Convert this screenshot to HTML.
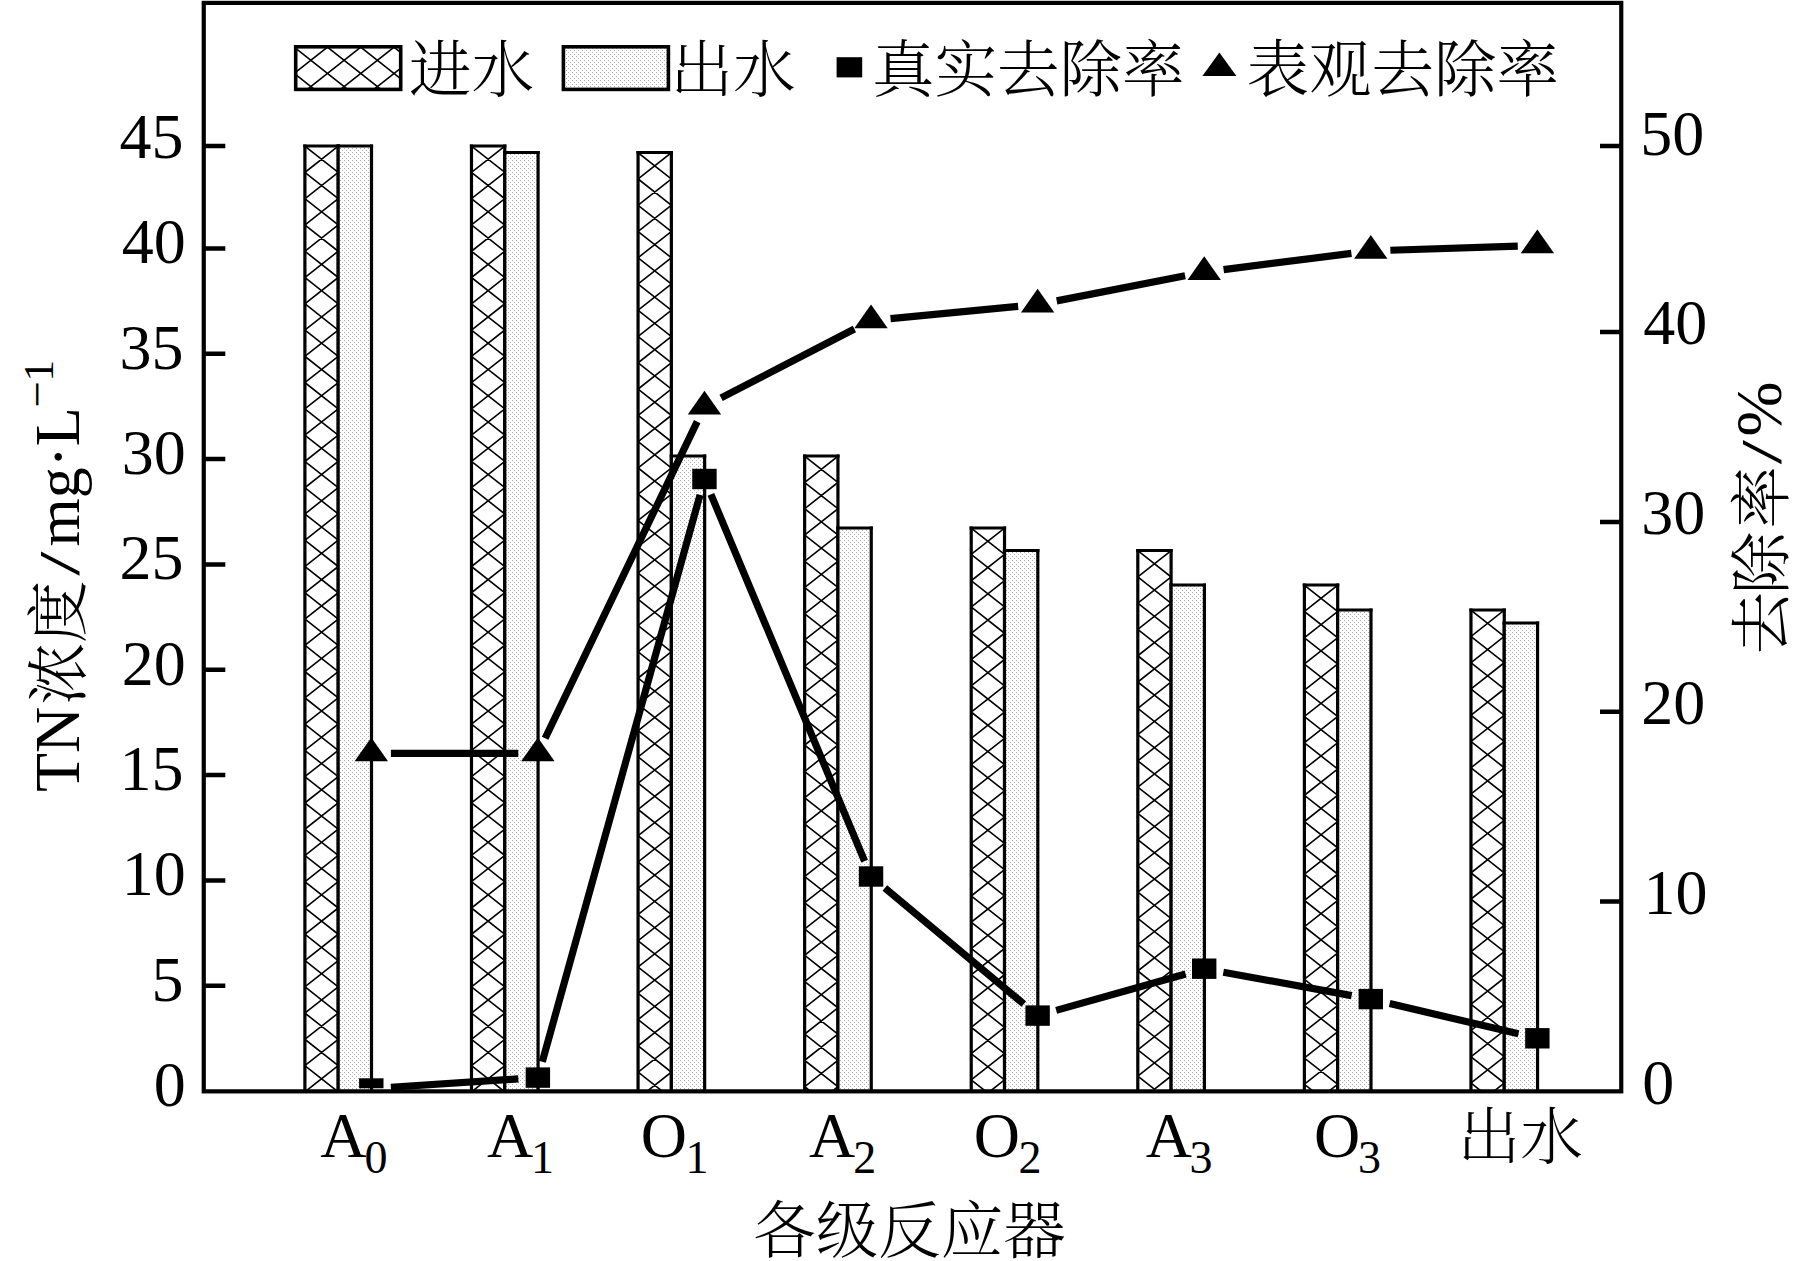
<!DOCTYPE html>
<html lang="zh"><head><meta charset="utf-8"><title>TN</title>
<style>html,body{margin:0;padding:0;background:#fff;overflow:hidden;}svg{display:block;}text{font-family:"Liberation Serif", "Noto Serif CJK SC", serif;fill:#000;font-weight:300;}</style></head><body>
<svg width="1798" height="1261" viewBox="0 0 1798 1261">
<rect x="0" y="0" width="1798" height="1261" fill="#fff"/>
<defs>
<pattern id="dots" patternUnits="userSpaceOnUse" x="0" y="0" width="4" height="4"><rect width="4" height="4" fill="#fff"/><rect x="0" y="0" width="1" height="1" fill="#acacac"/><rect x="2" y="2" width="1" height="1" fill="#acacac"/></pattern>
<clipPath id="lineclip"><rect x="203.75" y="2.90" width="1417.50" height="1088.45"/></clipPath>
<clipPath id="plotclip"><rect x="203.75" y="2.90" width="1417.50" height="1085.40"/></clipPath>
<clipPath id="hc0"><rect x="304.90" y="146.00" width="33.30" height="945.35"/></clipPath>
<clipPath id="hc1"><rect x="471.48" y="146.00" width="33.30" height="945.35"/></clipPath>
<clipPath id="hc2"><rect x="638.06" y="152.50" width="33.30" height="938.85"/></clipPath>
<clipPath id="hc3"><rect x="804.64" y="456.00" width="33.30" height="635.35"/></clipPath>
<clipPath id="hc4"><rect x="971.22" y="528.00" width="33.30" height="563.35"/></clipPath>
<clipPath id="hc5"><rect x="1137.80" y="550.50" width="33.30" height="540.85"/></clipPath>
<clipPath id="hc6"><rect x="1304.38" y="585.00" width="33.30" height="506.35"/></clipPath>
<clipPath id="hc7"><rect x="1470.96" y="610.00" width="33.30" height="481.35"/></clipPath>
<clipPath id="hcl"><rect x="295.70" y="46.80" width="105.00" height="42.60"/></clipPath>
</defs>
<g id="bars">
<rect x="304.90" y="146.00" width="33.30" height="945.35" fill="#fff"/>
<path clip-path="url(#hc0)" d="M302.90 118.32L340.20 147.74M302.90 147.74L340.20 118.32M302.90 144.59L340.20 174.01M302.90 174.01L340.20 144.59M302.90 170.86L340.20 200.28M302.90 200.28L340.20 170.86M302.90 197.13L340.20 226.55M302.90 226.55L340.20 197.13M302.90 223.40L340.20 252.82M302.90 252.82L340.20 223.40M302.90 249.67L340.20 279.09M302.90 279.09L340.20 249.67M302.90 275.94L340.20 305.36M302.90 305.36L340.20 275.94M302.90 302.21L340.20 331.63M302.90 331.63L340.20 302.21M302.90 328.48L340.20 357.90M302.90 357.90L340.20 328.48M302.90 354.75L340.20 384.17M302.90 384.17L340.20 354.75M302.90 381.02L340.20 410.44M302.90 410.44L340.20 381.02M302.90 407.29L340.20 436.71M302.90 436.71L340.20 407.29M302.90 433.56L340.20 462.98M302.90 462.98L340.20 433.56M302.90 459.83L340.20 489.25M302.90 489.25L340.20 459.83M302.90 486.10L340.20 515.52M302.90 515.52L340.20 486.10M302.90 512.37L340.20 541.79M302.90 541.79L340.20 512.37M302.90 538.64L340.20 568.06M302.90 568.06L340.20 538.64M302.90 564.91L340.20 594.33M302.90 594.33L340.20 564.91M302.90 591.18L340.20 620.60M302.90 620.60L340.20 591.18M302.90 617.45L340.20 646.87M302.90 646.87L340.20 617.45M302.90 643.72L340.20 673.14M302.90 673.14L340.20 643.72M302.90 669.99L340.20 699.41M302.90 699.41L340.20 669.99M302.90 696.26L340.20 725.68M302.90 725.68L340.20 696.26M302.90 722.53L340.20 751.95M302.90 751.95L340.20 722.53M302.90 748.80L340.20 778.22M302.90 778.22L340.20 748.80M302.90 775.07L340.20 804.49M302.90 804.49L340.20 775.07M302.90 801.34L340.20 830.76M302.90 830.76L340.20 801.34M302.90 827.61L340.20 857.03M302.90 857.03L340.20 827.61M302.90 853.88L340.20 883.30M302.90 883.30L340.20 853.88M302.90 880.15L340.20 909.57M302.90 909.57L340.20 880.15M302.90 906.42L340.20 935.84M302.90 935.84L340.20 906.42M302.90 932.69L340.20 962.11M302.90 962.11L340.20 932.69M302.90 958.96L340.20 988.38M302.90 988.38L340.20 958.96M302.90 985.23L340.20 1014.65M302.90 1014.65L340.20 985.23M302.90 1011.50L340.20 1040.92M302.90 1040.92L340.20 1011.50M302.90 1037.77L340.20 1067.19M302.90 1067.19L340.20 1037.77M302.90 1064.04L340.20 1093.46M302.90 1093.46L340.20 1064.04M302.90 1090.31L340.20 1119.73M302.90 1119.73L340.20 1090.31" fill="none" stroke="#000" stroke-width="1.6"/>
<path d="M304.90 1091.35V144.50M338.20 1091.35V144.50" stroke="#000" stroke-width="3.2" fill="none"/><path d="M303.30 146.00H339.80" stroke="#000" stroke-width="3.0" fill="none"/>
<rect x="338.20" y="146.00" width="33.30" height="945.35" fill="url(#dots)"/>
<path d="M338.20 1091.35V144.50M371.50 1091.35V144.50" stroke="#000" stroke-width="3.2" fill="none"/><path d="M336.60 146.00H373.10" stroke="#000" stroke-width="3.0" fill="none"/>
<rect x="471.48" y="146.00" width="33.30" height="945.35" fill="#fff"/>
<path clip-path="url(#hc1)" d="M469.48 118.32L506.78 147.74M469.48 147.74L506.78 118.32M469.48 144.59L506.78 174.01M469.48 174.01L506.78 144.59M469.48 170.86L506.78 200.28M469.48 200.28L506.78 170.86M469.48 197.13L506.78 226.55M469.48 226.55L506.78 197.13M469.48 223.40L506.78 252.82M469.48 252.82L506.78 223.40M469.48 249.67L506.78 279.09M469.48 279.09L506.78 249.67M469.48 275.94L506.78 305.36M469.48 305.36L506.78 275.94M469.48 302.21L506.78 331.63M469.48 331.63L506.78 302.21M469.48 328.48L506.78 357.90M469.48 357.90L506.78 328.48M469.48 354.75L506.78 384.17M469.48 384.17L506.78 354.75M469.48 381.02L506.78 410.44M469.48 410.44L506.78 381.02M469.48 407.29L506.78 436.71M469.48 436.71L506.78 407.29M469.48 433.56L506.78 462.98M469.48 462.98L506.78 433.56M469.48 459.83L506.78 489.25M469.48 489.25L506.78 459.83M469.48 486.10L506.78 515.52M469.48 515.52L506.78 486.10M469.48 512.37L506.78 541.79M469.48 541.79L506.78 512.37M469.48 538.64L506.78 568.06M469.48 568.06L506.78 538.64M469.48 564.91L506.78 594.33M469.48 594.33L506.78 564.91M469.48 591.18L506.78 620.60M469.48 620.60L506.78 591.18M469.48 617.45L506.78 646.87M469.48 646.87L506.78 617.45M469.48 643.72L506.78 673.14M469.48 673.14L506.78 643.72M469.48 669.99L506.78 699.41M469.48 699.41L506.78 669.99M469.48 696.26L506.78 725.68M469.48 725.68L506.78 696.26M469.48 722.53L506.78 751.95M469.48 751.95L506.78 722.53M469.48 748.80L506.78 778.22M469.48 778.22L506.78 748.80M469.48 775.07L506.78 804.49M469.48 804.49L506.78 775.07M469.48 801.34L506.78 830.76M469.48 830.76L506.78 801.34M469.48 827.61L506.78 857.03M469.48 857.03L506.78 827.61M469.48 853.88L506.78 883.30M469.48 883.30L506.78 853.88M469.48 880.15L506.78 909.57M469.48 909.57L506.78 880.15M469.48 906.42L506.78 935.84M469.48 935.84L506.78 906.42M469.48 932.69L506.78 962.11M469.48 962.11L506.78 932.69M469.48 958.96L506.78 988.38M469.48 988.38L506.78 958.96M469.48 985.23L506.78 1014.65M469.48 1014.65L506.78 985.23M469.48 1011.50L506.78 1040.92M469.48 1040.92L506.78 1011.50M469.48 1037.77L506.78 1067.19M469.48 1067.19L506.78 1037.77M469.48 1064.04L506.78 1093.46M469.48 1093.46L506.78 1064.04M469.48 1090.31L506.78 1119.73M469.48 1119.73L506.78 1090.31" fill="none" stroke="#000" stroke-width="1.6"/>
<path d="M471.48 1091.35V144.50M504.78 1091.35V144.50" stroke="#000" stroke-width="3.2" fill="none"/><path d="M469.88 146.00H506.38" stroke="#000" stroke-width="3.0" fill="none"/>
<rect x="504.78" y="152.50" width="33.30" height="938.85" fill="url(#dots)"/>
<path d="M504.78 1091.35V151.00M538.08 1091.35V151.00" stroke="#000" stroke-width="3.2" fill="none"/><path d="M503.18 152.50H539.68" stroke="#000" stroke-width="3.0" fill="none"/>
<rect x="638.06" y="152.50" width="33.30" height="938.85" fill="#fff"/>
<path clip-path="url(#hc2)" d="M636.06 124.82L673.36 154.24M636.06 154.24L673.36 124.82M636.06 151.09L673.36 180.51M636.06 180.51L673.36 151.09M636.06 177.36L673.36 206.78M636.06 206.78L673.36 177.36M636.06 203.63L673.36 233.05M636.06 233.05L673.36 203.63M636.06 229.90L673.36 259.32M636.06 259.32L673.36 229.90M636.06 256.17L673.36 285.59M636.06 285.59L673.36 256.17M636.06 282.44L673.36 311.86M636.06 311.86L673.36 282.44M636.06 308.71L673.36 338.13M636.06 338.13L673.36 308.71M636.06 334.98L673.36 364.40M636.06 364.40L673.36 334.98M636.06 361.25L673.36 390.67M636.06 390.67L673.36 361.25M636.06 387.52L673.36 416.94M636.06 416.94L673.36 387.52M636.06 413.79L673.36 443.21M636.06 443.21L673.36 413.79M636.06 440.06L673.36 469.48M636.06 469.48L673.36 440.06M636.06 466.33L673.36 495.75M636.06 495.75L673.36 466.33M636.06 492.60L673.36 522.02M636.06 522.02L673.36 492.60M636.06 518.87L673.36 548.29M636.06 548.29L673.36 518.87M636.06 545.14L673.36 574.56M636.06 574.56L673.36 545.14M636.06 571.41L673.36 600.83M636.06 600.83L673.36 571.41M636.06 597.68L673.36 627.10M636.06 627.10L673.36 597.68M636.06 623.95L673.36 653.37M636.06 653.37L673.36 623.95M636.06 650.22L673.36 679.64M636.06 679.64L673.36 650.22M636.06 676.49L673.36 705.91M636.06 705.91L673.36 676.49M636.06 702.76L673.36 732.18M636.06 732.18L673.36 702.76M636.06 729.03L673.36 758.45M636.06 758.45L673.36 729.03M636.06 755.30L673.36 784.72M636.06 784.72L673.36 755.30M636.06 781.57L673.36 810.99M636.06 810.99L673.36 781.57M636.06 807.84L673.36 837.26M636.06 837.26L673.36 807.84M636.06 834.11L673.36 863.53M636.06 863.53L673.36 834.11M636.06 860.38L673.36 889.80M636.06 889.80L673.36 860.38M636.06 886.65L673.36 916.07M636.06 916.07L673.36 886.65M636.06 912.92L673.36 942.34M636.06 942.34L673.36 912.92M636.06 939.19L673.36 968.61M636.06 968.61L673.36 939.19M636.06 965.46L673.36 994.88M636.06 994.88L673.36 965.46M636.06 991.73L673.36 1021.15M636.06 1021.15L673.36 991.73M636.06 1018.00L673.36 1047.42M636.06 1047.42L673.36 1018.00M636.06 1044.27L673.36 1073.69M636.06 1073.69L673.36 1044.27M636.06 1070.54L673.36 1099.96M636.06 1099.96L673.36 1070.54" fill="none" stroke="#000" stroke-width="1.6"/>
<path d="M638.06 1091.35V151.00M671.36 1091.35V151.00" stroke="#000" stroke-width="3.2" fill="none"/><path d="M636.46 152.50H672.96" stroke="#000" stroke-width="3.0" fill="none"/>
<rect x="671.36" y="456.00" width="33.30" height="635.35" fill="url(#dots)"/>
<path d="M671.36 1091.35V454.50M704.66 1091.35V454.50" stroke="#000" stroke-width="3.2" fill="none"/><path d="M669.76 456.00H706.26" stroke="#000" stroke-width="3.0" fill="none"/>
<rect x="804.64" y="456.00" width="33.30" height="635.35" fill="#fff"/>
<path clip-path="url(#hc3)" d="M802.64 428.32L839.94 457.74M802.64 457.74L839.94 428.32M802.64 454.59L839.94 484.01M802.64 484.01L839.94 454.59M802.64 480.86L839.94 510.28M802.64 510.28L839.94 480.86M802.64 507.13L839.94 536.55M802.64 536.55L839.94 507.13M802.64 533.40L839.94 562.82M802.64 562.82L839.94 533.40M802.64 559.67L839.94 589.09M802.64 589.09L839.94 559.67M802.64 585.94L839.94 615.36M802.64 615.36L839.94 585.94M802.64 612.21L839.94 641.63M802.64 641.63L839.94 612.21M802.64 638.48L839.94 667.90M802.64 667.90L839.94 638.48M802.64 664.75L839.94 694.17M802.64 694.17L839.94 664.75M802.64 691.02L839.94 720.44M802.64 720.44L839.94 691.02M802.64 717.29L839.94 746.71M802.64 746.71L839.94 717.29M802.64 743.56L839.94 772.98M802.64 772.98L839.94 743.56M802.64 769.83L839.94 799.25M802.64 799.25L839.94 769.83M802.64 796.10L839.94 825.52M802.64 825.52L839.94 796.10M802.64 822.37L839.94 851.79M802.64 851.79L839.94 822.37M802.64 848.64L839.94 878.06M802.64 878.06L839.94 848.64M802.64 874.91L839.94 904.33M802.64 904.33L839.94 874.91M802.64 901.18L839.94 930.60M802.64 930.60L839.94 901.18M802.64 927.45L839.94 956.87M802.64 956.87L839.94 927.45M802.64 953.72L839.94 983.14M802.64 983.14L839.94 953.72M802.64 979.99L839.94 1009.41M802.64 1009.41L839.94 979.99M802.64 1006.26L839.94 1035.68M802.64 1035.68L839.94 1006.26M802.64 1032.53L839.94 1061.95M802.64 1061.95L839.94 1032.53M802.64 1058.80L839.94 1088.22M802.64 1088.22L839.94 1058.80M802.64 1085.07L839.94 1114.49M802.64 1114.49L839.94 1085.07" fill="none" stroke="#000" stroke-width="1.6"/>
<path d="M804.64 1091.35V454.50M837.94 1091.35V454.50" stroke="#000" stroke-width="3.2" fill="none"/><path d="M803.04 456.00H839.54" stroke="#000" stroke-width="3.0" fill="none"/>
<rect x="837.94" y="528.00" width="33.30" height="563.35" fill="url(#dots)"/>
<path d="M837.94 1091.35V526.50M871.24 1091.35V526.50" stroke="#000" stroke-width="3.2" fill="none"/><path d="M836.34 528.00H872.84" stroke="#000" stroke-width="3.0" fill="none"/>
<rect x="971.22" y="528.00" width="33.30" height="563.35" fill="#fff"/>
<path clip-path="url(#hc4)" d="M969.22 500.32L1006.52 529.74M969.22 529.74L1006.52 500.32M969.22 526.59L1006.52 556.01M969.22 556.01L1006.52 526.59M969.22 552.86L1006.52 582.28M969.22 582.28L1006.52 552.86M969.22 579.13L1006.52 608.55M969.22 608.55L1006.52 579.13M969.22 605.40L1006.52 634.82M969.22 634.82L1006.52 605.40M969.22 631.67L1006.52 661.09M969.22 661.09L1006.52 631.67M969.22 657.94L1006.52 687.36M969.22 687.36L1006.52 657.94M969.22 684.21L1006.52 713.63M969.22 713.63L1006.52 684.21M969.22 710.48L1006.52 739.90M969.22 739.90L1006.52 710.48M969.22 736.75L1006.52 766.17M969.22 766.17L1006.52 736.75M969.22 763.02L1006.52 792.44M969.22 792.44L1006.52 763.02M969.22 789.29L1006.52 818.71M969.22 818.71L1006.52 789.29M969.22 815.56L1006.52 844.98M969.22 844.98L1006.52 815.56M969.22 841.83L1006.52 871.25M969.22 871.25L1006.52 841.83M969.22 868.10L1006.52 897.52M969.22 897.52L1006.52 868.10M969.22 894.37L1006.52 923.79M969.22 923.79L1006.52 894.37M969.22 920.64L1006.52 950.06M969.22 950.06L1006.52 920.64M969.22 946.91L1006.52 976.33M969.22 976.33L1006.52 946.91M969.22 973.18L1006.52 1002.60M969.22 1002.60L1006.52 973.18M969.22 999.45L1006.52 1028.87M969.22 1028.87L1006.52 999.45M969.22 1025.72L1006.52 1055.14M969.22 1055.14L1006.52 1025.72M969.22 1051.99L1006.52 1081.41M969.22 1081.41L1006.52 1051.99M969.22 1078.26L1006.52 1107.68M969.22 1107.68L1006.52 1078.26" fill="none" stroke="#000" stroke-width="1.6"/>
<path d="M971.22 1091.35V526.50M1004.52 1091.35V526.50" stroke="#000" stroke-width="3.2" fill="none"/><path d="M969.62 528.00H1006.12" stroke="#000" stroke-width="3.0" fill="none"/>
<rect x="1004.52" y="550.50" width="33.30" height="540.85" fill="url(#dots)"/>
<path d="M1004.52 1091.35V549.00M1037.82 1091.35V549.00" stroke="#000" stroke-width="3.2" fill="none"/><path d="M1002.92 550.50H1039.42" stroke="#000" stroke-width="3.0" fill="none"/>
<rect x="1137.80" y="550.50" width="33.30" height="540.85" fill="#fff"/>
<path clip-path="url(#hc5)" d="M1135.80 522.82L1173.10 552.24M1135.80 552.24L1173.10 522.82M1135.80 549.09L1173.10 578.51M1135.80 578.51L1173.10 549.09M1135.80 575.36L1173.10 604.78M1135.80 604.78L1173.10 575.36M1135.80 601.63L1173.10 631.05M1135.80 631.05L1173.10 601.63M1135.80 627.90L1173.10 657.32M1135.80 657.32L1173.10 627.90M1135.80 654.17L1173.10 683.59M1135.80 683.59L1173.10 654.17M1135.80 680.44L1173.10 709.86M1135.80 709.86L1173.10 680.44M1135.80 706.71L1173.10 736.13M1135.80 736.13L1173.10 706.71M1135.80 732.98L1173.10 762.40M1135.80 762.40L1173.10 732.98M1135.80 759.25L1173.10 788.67M1135.80 788.67L1173.10 759.25M1135.80 785.52L1173.10 814.94M1135.80 814.94L1173.10 785.52M1135.80 811.79L1173.10 841.21M1135.80 841.21L1173.10 811.79M1135.80 838.06L1173.10 867.48M1135.80 867.48L1173.10 838.06M1135.80 864.33L1173.10 893.75M1135.80 893.75L1173.10 864.33M1135.80 890.60L1173.10 920.02M1135.80 920.02L1173.10 890.60M1135.80 916.87L1173.10 946.29M1135.80 946.29L1173.10 916.87M1135.80 943.14L1173.10 972.56M1135.80 972.56L1173.10 943.14M1135.80 969.41L1173.10 998.83M1135.80 998.83L1173.10 969.41M1135.80 995.68L1173.10 1025.10M1135.80 1025.10L1173.10 995.68M1135.80 1021.95L1173.10 1051.37M1135.80 1051.37L1173.10 1021.95M1135.80 1048.22L1173.10 1077.64M1135.80 1077.64L1173.10 1048.22M1135.80 1074.49L1173.10 1103.91M1135.80 1103.91L1173.10 1074.49" fill="none" stroke="#000" stroke-width="1.6"/>
<path d="M1137.80 1091.35V549.00M1171.10 1091.35V549.00" stroke="#000" stroke-width="3.2" fill="none"/><path d="M1136.20 550.50H1172.70" stroke="#000" stroke-width="3.0" fill="none"/>
<rect x="1171.10" y="585.00" width="33.30" height="506.35" fill="url(#dots)"/>
<path d="M1171.10 1091.35V583.50M1204.40 1091.35V583.50" stroke="#000" stroke-width="3.2" fill="none"/><path d="M1169.50 585.00H1206.00" stroke="#000" stroke-width="3.0" fill="none"/>
<rect x="1304.38" y="585.00" width="33.30" height="506.35" fill="#fff"/>
<path clip-path="url(#hc6)" d="M1302.38 557.32L1339.68 586.74M1302.38 586.74L1339.68 557.32M1302.38 583.59L1339.68 613.01M1302.38 613.01L1339.68 583.59M1302.38 609.86L1339.68 639.28M1302.38 639.28L1339.68 609.86M1302.38 636.13L1339.68 665.55M1302.38 665.55L1339.68 636.13M1302.38 662.40L1339.68 691.82M1302.38 691.82L1339.68 662.40M1302.38 688.67L1339.68 718.09M1302.38 718.09L1339.68 688.67M1302.38 714.94L1339.68 744.36M1302.38 744.36L1339.68 714.94M1302.38 741.21L1339.68 770.63M1302.38 770.63L1339.68 741.21M1302.38 767.48L1339.68 796.90M1302.38 796.90L1339.68 767.48M1302.38 793.75L1339.68 823.17M1302.38 823.17L1339.68 793.75M1302.38 820.02L1339.68 849.44M1302.38 849.44L1339.68 820.02M1302.38 846.29L1339.68 875.71M1302.38 875.71L1339.68 846.29M1302.38 872.56L1339.68 901.98M1302.38 901.98L1339.68 872.56M1302.38 898.83L1339.68 928.25M1302.38 928.25L1339.68 898.83M1302.38 925.10L1339.68 954.52M1302.38 954.52L1339.68 925.10M1302.38 951.37L1339.68 980.79M1302.38 980.79L1339.68 951.37M1302.38 977.64L1339.68 1007.06M1302.38 1007.06L1339.68 977.64M1302.38 1003.91L1339.68 1033.33M1302.38 1033.33L1339.68 1003.91M1302.38 1030.18L1339.68 1059.60M1302.38 1059.60L1339.68 1030.18M1302.38 1056.45L1339.68 1085.87M1302.38 1085.87L1339.68 1056.45M1302.38 1082.72L1339.68 1112.14M1302.38 1112.14L1339.68 1082.72" fill="none" stroke="#000" stroke-width="1.6"/>
<path d="M1304.38 1091.35V583.50M1337.68 1091.35V583.50" stroke="#000" stroke-width="3.2" fill="none"/><path d="M1302.78 585.00H1339.28" stroke="#000" stroke-width="3.0" fill="none"/>
<rect x="1337.68" y="610.00" width="33.30" height="481.35" fill="url(#dots)"/>
<path d="M1337.68 1091.35V608.50M1370.98 1091.35V608.50" stroke="#000" stroke-width="3.2" fill="none"/><path d="M1336.08 610.00H1372.58" stroke="#000" stroke-width="3.0" fill="none"/>
<rect x="1470.96" y="610.00" width="33.30" height="481.35" fill="#fff"/>
<path clip-path="url(#hc7)" d="M1468.96 582.32L1506.26 611.74M1468.96 611.74L1506.26 582.32M1468.96 608.59L1506.26 638.01M1468.96 638.01L1506.26 608.59M1468.96 634.86L1506.26 664.28M1468.96 664.28L1506.26 634.86M1468.96 661.13L1506.26 690.55M1468.96 690.55L1506.26 661.13M1468.96 687.40L1506.26 716.82M1468.96 716.82L1506.26 687.40M1468.96 713.67L1506.26 743.09M1468.96 743.09L1506.26 713.67M1468.96 739.94L1506.26 769.36M1468.96 769.36L1506.26 739.94M1468.96 766.21L1506.26 795.63M1468.96 795.63L1506.26 766.21M1468.96 792.48L1506.26 821.90M1468.96 821.90L1506.26 792.48M1468.96 818.75L1506.26 848.17M1468.96 848.17L1506.26 818.75M1468.96 845.02L1506.26 874.44M1468.96 874.44L1506.26 845.02M1468.96 871.29L1506.26 900.71M1468.96 900.71L1506.26 871.29M1468.96 897.56L1506.26 926.98M1468.96 926.98L1506.26 897.56M1468.96 923.83L1506.26 953.25M1468.96 953.25L1506.26 923.83M1468.96 950.10L1506.26 979.52M1468.96 979.52L1506.26 950.10M1468.96 976.37L1506.26 1005.79M1468.96 1005.79L1506.26 976.37M1468.96 1002.64L1506.26 1032.06M1468.96 1032.06L1506.26 1002.64M1468.96 1028.91L1506.26 1058.33M1468.96 1058.33L1506.26 1028.91M1468.96 1055.18L1506.26 1084.60M1468.96 1084.60L1506.26 1055.18M1468.96 1081.45L1506.26 1110.87M1468.96 1110.87L1506.26 1081.45" fill="none" stroke="#000" stroke-width="1.6"/>
<path d="M1470.96 1091.35V608.50M1504.26 1091.35V608.50" stroke="#000" stroke-width="3.2" fill="none"/><path d="M1469.36 610.00H1505.86" stroke="#000" stroke-width="3.0" fill="none"/>
<rect x="1504.26" y="623.00" width="33.30" height="468.35" fill="url(#dots)"/>
<path d="M1504.26 1091.35V621.50M1537.56 1091.35V621.50" stroke="#000" stroke-width="3.2" fill="none"/><path d="M1502.66 623.00H1539.16" stroke="#000" stroke-width="3.0" fill="none"/>
</g>
<g id="serieslines" clip-path="url(#lineclip)">
<path d="M390.84 1087.22L518.34 1078.88M542.29 1061.75L700.05 494.85M710.90 494.37L864.60 861.13M884.86 888.04L1023.80 1004.06M1056.18 1010.37L1185.64 973.93M1223.34 972.19L1351.64 995.61M1389.64 1003.54L1518.50 1033.86" fill="none" stroke="#000" stroke-width="7.2" stroke-linecap="butt"/>
<path d="M390.90 753.30L518.28 753.30M545.14 738.19L697.20 421.61M721.10 397.90L854.40 329.00M890.51 318.55L1018.15 306.45M1056.70 300.88L1185.12 275.82M1223.57 269.63L1351.41 253.37M1390.36 250.25L1517.78 246.05" fill="none" stroke="#000" stroke-width="7.2" stroke-linecap="butt"/>
</g>
<g id="series" clip-path="url(#plotclip)">
<rect x="359.10" y="1078.30" width="24.40" height="20.40" fill="#000"/>
<rect x="525.68" y="1067.40" width="24.40" height="20.40" fill="#000"/>
<rect x="692.26" y="468.80" width="24.40" height="20.40" fill="#000"/>
<rect x="858.84" y="866.30" width="24.40" height="20.40" fill="#000"/>
<rect x="1025.42" y="1005.40" width="24.40" height="20.40" fill="#000"/>
<rect x="1192.00" y="958.50" width="24.40" height="20.40" fill="#000"/>
<rect x="1358.58" y="988.90" width="24.40" height="20.40" fill="#000"/>
<rect x="1525.16" y="1028.10" width="24.40" height="20.40" fill="#000"/>
<path d="M371.30 737.43L388.00 761.23L354.60 761.23Z" fill="#000"/>
<path d="M537.88 737.43L554.58 761.23L521.18 761.23Z" fill="#000"/>
<path d="M704.46 390.63L721.16 414.43L687.76 414.43Z" fill="#000"/>
<path d="M871.04 304.53L887.74 328.33L854.34 328.33Z" fill="#000"/>
<path d="M1037.62 288.73L1054.32 312.53L1020.92 312.53Z" fill="#000"/>
<path d="M1204.20 256.23L1220.90 280.03L1187.50 280.03Z" fill="#000"/>
<path d="M1370.78 235.03L1387.48 258.83L1354.08 258.83Z" fill="#000"/>
<path d="M1537.36 229.53L1554.06 253.33L1520.66 253.33Z" fill="#000"/>
</g>
<g id="axes" stroke="#000" fill="none">
<rect x="203.75" y="2.90" width="1417.50" height="1088.45" stroke-width="4.2"/>
<path d="M203.75 146.00H225.30M203.75 248.50H225.30M203.75 353.80H225.30M203.75 459.00H225.30M203.75 564.60H225.30M203.75 669.70H225.30M203.75 775.00H225.30M203.75 880.40H225.30M203.75 985.80H225.30" stroke-width="4.5"/>
<path d="M1621.25 146.00H1600.00M1621.25 331.90H1600.00M1621.25 521.90H1600.00M1621.25 711.70H1600.00M1621.25 901.60H1600.00" stroke-width="4.5"/>
</g>
<g id="legend">
<rect x="295.70" y="46.80" width="105.00" height="42.60" fill="#fff"/>
<path clip-path="url(#hcl)" d="M293.70 -32.00L402.70 53.99M293.70 -5.73L402.70 80.26M293.70 20.54L402.70 106.53M293.70 47.52L402.70 -38.47M293.70 46.81L402.70 132.80M293.70 73.79L402.70 -12.20M293.70 73.08L402.70 159.07M293.70 100.06L402.70 14.07M293.70 126.33L402.70 40.34M293.70 152.60L402.70 66.61" fill="none" stroke="#000" stroke-width="1.6"/>
<rect x="295.70" y="46.80" width="105.00" height="42.60" fill="none" stroke="#000" stroke-width="3.6"/>
<rect x="563.40" y="46.80" width="105.00" height="42.60" fill="url(#dots)" stroke="#000" stroke-width="3.6"/>
<rect x="836.6" y="57.2" width="25.6" height="20.2" fill="#000"/>
<path d="M1219.4 52.4L1236.4 76.0L1202.4 76.0Z" fill="#000"/>
</g>
<g id="labels">
<text transform="translate(409.00 91.50)" font-size="62.5">进水</text>
<text transform="translate(670.50 91.50)" font-size="62.5">出水</text>
<text transform="translate(872.00 92.00)" font-size="62.5">真实去除率</text>
<text transform="translate(1246.40 92.00)" font-size="62.5">表观去除率</text>
<text transform="translate(153.80 1106.10)" font-size="64">0</text>
<text transform="translate(151.60 1000.75)" font-size="64">5</text>
<text transform="translate(121.80 895.40)" font-size="64">10</text>
<text transform="translate(119.60 790.05)" font-size="64">15</text>
<text transform="translate(121.80 684.70)" font-size="64">20</text>
<text transform="translate(119.60 579.35)" font-size="64">25</text>
<text transform="translate(121.80 474.00)" font-size="64">30</text>
<text transform="translate(119.60 368.65)" font-size="64">35</text>
<text transform="translate(121.80 263.30)" font-size="64">40</text>
<text transform="translate(119.60 157.95)" font-size="64">45</text>
<text transform="translate(1642.30 1103.60)" font-size="64">0</text>
<text transform="translate(1643.40 913.80)" font-size="64">10</text>
<text transform="translate(1641.30 724.00)" font-size="64">20</text>
<text transform="translate(1641.30 534.20)" font-size="64">30</text>
<text transform="translate(1643.30 344.40)" font-size="64">40</text>
<text transform="translate(1640.30 154.60)" font-size="64">50</text>
<text transform="translate(320.20 1156.70)" font-size="64">A</text>
<text transform="translate(364.50 1173.00)" font-size="46">0</text>
<text transform="translate(487.00 1156.70)" font-size="64">A</text>
<text transform="translate(531.00 1173.00)" font-size="46">1</text>
<text transform="translate(640.70 1156.70)" font-size="64">O</text>
<text transform="translate(685.40 1173.00)" font-size="46">1</text>
<text transform="translate(809.00 1156.70)" font-size="64">A</text>
<text transform="translate(853.30 1173.00)" font-size="46">2</text>
<text transform="translate(973.80 1156.70)" font-size="64">O</text>
<text transform="translate(1018.50 1173.00)" font-size="46">2</text>
<text transform="translate(1145.70 1156.70)" font-size="64">A</text>
<text transform="translate(1189.60 1173.00)" font-size="46">3</text>
<text transform="translate(1313.90 1156.70)" font-size="64">O</text>
<text transform="translate(1358.00 1173.00)" font-size="46">3</text>
<text transform="translate(1457.80 1159.00)" font-size="62.5">出水</text>
<text transform="translate(753.30 1252.70)" font-size="62.5">各级反应器</text>
<text transform="translate(78.50 792.00) rotate(-90)" font-size="64">TN</text>
<text transform="translate(80.70 705.00) rotate(-90)" font-size="62.5">浓</text>
<text transform="translate(80.70 643.00) rotate(-90)" font-size="62.5">度</text>
<text transform="translate(78.50 575.75) rotate(-90) scale(1.500 1.000)" font-size="58" font-family="'Noto Serif CJK SC',serif">/</text>
<text transform="translate(78.50 546.40) rotate(-90)" font-size="62">mg</text>
<text transform="translate(78.50 467.50) rotate(-90)" font-size="64">·</text>
<text transform="translate(78.50 446.20) rotate(-90)" font-size="64">L</text>
<text transform="translate(52.80 407.60) rotate(-90)" font-size="47">−</text>
<text transform="translate(53.10 381.50) rotate(-90)" font-size="43">1</text>
<text transform="translate(1783.50 654.20) rotate(-90)" font-size="62.5">去</text>
<text transform="translate(1783.50 594.30) rotate(-90)" font-size="62.5">除</text>
<text transform="translate(1783.50 528.60) rotate(-90)" font-size="62.5">率</text>
<text transform="translate(1780.50 464.15) rotate(-90) scale(1.500 1.000)" font-size="58" font-family="'Noto Serif CJK SC',serif">/</text>
<text transform="translate(1780.50 436.40) rotate(-90)" font-size="66">%</text>
</g>
</svg></body></html>
